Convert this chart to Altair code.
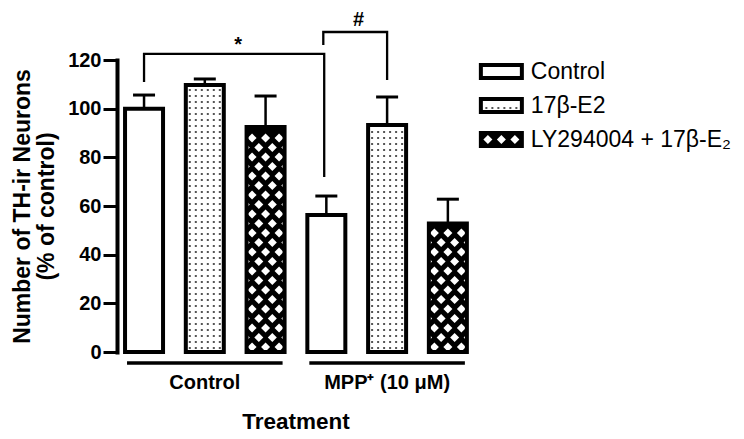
import altair as alt
import pandas as pd
import numpy as np

# ---------------- data ----------------
groups = ["Control", "MPP⁺ (10 μM)"]
treatments = ["Control", "17β-E2", "LY294004 + 17β-E₂"]
means = [100.0, 109.7, 92.5, 56.3, 93.3, 52.8]          # % of control
err_top = [105.6, 112.2, 105.2, 64.1, 104.8, 62.8]      # mean + SEM
sig_labels = ["*", "#"]
br_x_left = [0.0, 2.95]
br_x_right = [2.965, 4.0]
br_y_left = [111.0, 126.2]
br_y_top = [122.5, 131.5]
br_y_right = [71.9, 111.8]
sig_x = [1.55, 3.53]
sig_y = [126.0, 136.5]
y_ticks = [0, 20, 40, 60, 80, 100, 120]
x_title = "Treatment"
y_title = ["Number of TH-ir Neurons", "(% of control)"]

# ---------------- layout ----------------
W, H = 357, 292
X_DOM = [-0.445, 5.43]
Y_DOM = [0, 120]
PXX = W / (X_DOM[1] - X_DOM[0])
PXY = H / (Y_DOM[1] - Y_DOM[0])
FONT = "Liberation Sans"


def dx(p):
    return p / PXX


def dy(p):
    return p / PXY


# legend layout (in scale units, derived from pixel offsets)
LEG_X0 = 5.0 + dx(33)
LEG_X1 = LEG_X0 + dx(41)
LEG_TXT = LEG_X1 + dx(9)
LEG_Y = [Y_DOM[1] - dy(11.5 + 34 * k) for k in range(3)]

# ---------------- tables ----------------
rects = []
for i, m in enumerate(means):
    rects.append(dict(x0=i - dx(19), x1=i + dx(19), y0=0.0, y1=m, t=i % 3))
for k in range(3):
    rects.append(dict(x0=LEG_X0, x1=LEG_X1, y0=LEG_Y[k] - dy(6.5), y1=LEG_Y[k] + dy(6.5), t=k))
rect_df = pd.DataFrame(rects)
rect_df["fill"] = np.where(rect_df["t"] == 2, "black", "white")

dots, diamonds = [], []
for r in rects:
    cx = (r["x0"] + r["x1"]) / 2
    hpx = (r["y1"] - r["y0"]) * PXY
    if r["t"] == 1:
        for yp in np.arange(4, hpx - 3, 6):
            for xp in np.arange(-15, 15.01, 6):
                dots.append(dict(x=cx + dx(xp), y=r["y0"] + dy(yp)))
    elif r["t"] == 2:
        start = hpx / 2 if hpx < 20 else 5.0
        rr = 0
        yp = start
        while yp <= hpx - 4:
            offs = [-13.5, 0, 13.5] if rr % 2 == 0 else [-20.25, -6.75, 6.75, 20.25]
            for xp in offs:
                diamonds.append(dict(x=cx + dx(xp), y=r["y0"] + dy(yp)))
            rr += 1
            yp += 9.5
dot_df = pd.DataFrame(dots)
dia_df = pd.DataFrame(diamonds)

err_df = pd.DataFrame(dict(x=list(range(len(means))), m=means, e=err_top))
err_df["xa"] = err_df["x"] - dx(11)
err_df["xb"] = err_df["x"] + dx(11)

br_rows = []
for b in range(len(sig_labels)):
    pts = [(br_x_left[b], br_y_left[b]), (br_x_left[b], br_y_top[b]),
           (br_x_right[b], br_y_top[b]), (br_x_right[b], br_y_right[b])]
    for o, (px, py) in enumerate(pts):
        br_rows.append(dict(b=b, o=o, x=px, y=py))
br_df = pd.DataFrame(br_rows)
sig_df = pd.DataFrame(dict(x=sig_x, y=sig_y, s=sig_labels))

grp_df = pd.DataFrame(dict(g=groups, c=[g * 3 + 1.0 for g in range(len(groups))]))
grp_df["xa"] = grp_df["c"] - 1.28
grp_df["xb"] = grp_df["c"] + 1.28
grp_df["yl"] = -dy(11)
grp_df["yt"] = -dy(31)
xt_df = pd.DataFrame(dict(x=[(len(means) - 1) / 2], y=[-dy(70)], s=[x_title]))
leg_df = pd.DataFrame(dict(x=[LEG_TXT] * 3, y=LEG_Y, s=treatments))

# ---------------- encodings ----------------
xs = alt.Scale(domain=X_DOM, nice=False, zero=False)
ys = alt.Scale(domain=Y_DOM, nice=False, zero=False)
yaxis = alt.Axis(
    values=y_ticks, grid=False, title=y_title,
    domainColor="black", domainWidth=4, domainCap="square",
    tickColor="black", tickWidth=3, tickSize=14,
    labelFont=FONT, labelFontSize=20, labelFontWeight="bold", labelColor="black",
    labelPadding=2,
    titleFont=FONT, titleFontSize=23, titleFontWeight="bold", titleColor="black",
    titlePadding=9, titleLineHeight=24,
)


def X(f):
    return alt.X(f, type="quantitative", scale=xs, axis=None)


def Y(f):
    return alt.Y(f, type="quantitative", scale=ys, axis=yaxis)


base_rect = alt.Chart(rect_df)
fills = base_rect.mark_rect(strokeWidth=0).encode(
    x=X("x0"), x2="x1", y=Y("y0"), y2="y1", color=alt.Color("fill:N", scale=None))
dot_layer = alt.Chart(dot_df).mark_square(size=4, color="#555555", opacity=1).encode(
    x=X("x"), y=Y("y"))
dia_layer = alt.Chart(dia_df).mark_point(shape="diamond", filled=True, size=81,
                                          color="white", opacity=1, strokeWidth=0).encode(
    x=X("x"), y=Y("y"))
strokes = base_rect.mark_rect(fillOpacity=0, stroke="black", strokeWidth=4).encode(
    x=X("x0"), x2="x1", y=Y("y0"), y2="y1")
stems = alt.Chart(err_df).mark_rule(color="black", strokeWidth=2.5).encode(
    x=X("x"), y=Y("m"), y2="e")
caps = alt.Chart(err_df).mark_rule(color="black", strokeWidth=3).encode(
    x=X("xa"), x2="xb", y=Y("e"))
brackets = alt.Chart(br_df).mark_line(color="black", strokeWidth=2.3, strokeJoin="miter").encode(
    x=X("x"), y=Y("y"), detail="b:N", order="o:Q")
sig = alt.Chart(sig_df).mark_text(font=FONT, fontSize=20, fontWeight="bold", color="black",
                                  baseline="middle", align="center").encode(
    x=X("x"), y=Y("y"), text="s:N")
under = alt.Chart(grp_df).mark_rule(color="black", strokeWidth=3.5).encode(
    x=X("xa"), x2="xb", y=Y("yl"))
gtext = alt.Chart(grp_df).mark_text(font=FONT, fontSize=20, fontWeight="bold", color="black",
                                    baseline="middle", align="center").encode(
    x=X("c"), y=Y("yt"), text="g:N")
xtitle = alt.Chart(xt_df).mark_text(font=FONT, fontSize=22.5, fontWeight="bold", color="black",
                                    baseline="middle", align="center").encode(
    x=X("x"), y=Y("y"), text="s:N")
legtext = alt.Chart(leg_df).mark_text(font=FONT, fontSize=23, color="black",
                                      baseline="middle", align="left").encode(
    x=X("x"), y=Y("y"), text="s:N")

chart = alt.layer(
    fills, dot_layer, dia_layer, strokes, stems, caps, brackets, sig,
    under, gtext, xtitle, legtext,
).properties(
    width=W, height=H,
    autosize=alt.AutoSizeParams(type="none"),
    padding={"left": 109, "top": 52, "right": 262, "bottom": 83},
    background="white",
).configure_view(stroke=None)

chart.save("out.html", embed_options={"renderer": "svg", "actions": False})
